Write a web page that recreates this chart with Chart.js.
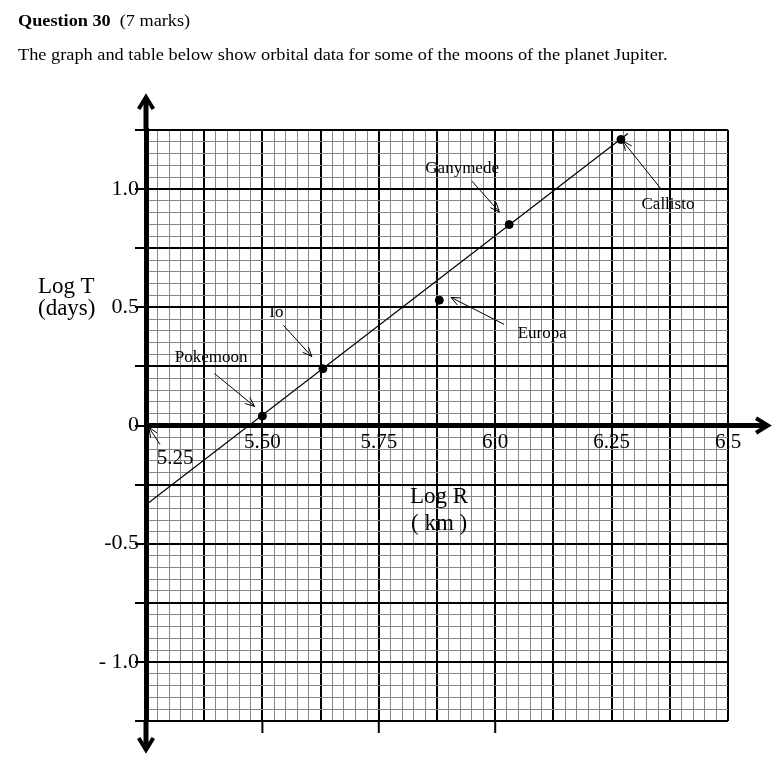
<!DOCTYPE html>
<html>
<head>
<meta charset="utf-8">
<script src="https://cdn.jsdelivr.net/npm/chart.js@4.4.1/dist/chart.umd.min.js"></script>
<style>
  body { margin: 0; background: #fff; }
  #wrap { position: relative; width: 784px; height: 762px; overflow: hidden; }
  #jupiterChart { position: absolute; left: 0; top: 0; }
  .txt { position: absolute; font-family: 'Liberation Serif', serif; color: #000; white-space: pre; transform-origin: 0 0; }
  .head { font-size: 16px; line-height: 16px; }
  .axisTitle { font-size: 23px; line-height: 23px; }
</style>
</head>
<body>
<div id="wrap">
  <canvas id="jupiterChart" width="784" height="762"></canvas>
  <div class="txt head" id="q" style="left:18px; top:13px;" data-fit="172"><b>Question 30</b>  (7 marks)</div>
  <div class="txt head" id="intro" style="left:18px; top:47px;" data-fit="649">The graph and table below show orbital data for some of the moons of the planet Jupiter.</div>
  <div class="txt axisTitle" style="left:38px; top:274px;">Log T</div>
  <div class="txt axisTitle" style="left:38px; top:296px;">(days)</div>
  <div class="txt axisTitle" style="left:410px; top:484px;">Log R</div>
  <div class="txt axisTitle" style="left:411px; top:511px;">( km )</div>
</div>
<script>
const moonNames = ['Pokemoon', 'Io', 'Europa', 'Ganymede', 'Callisto'];
const moonLogR = [5.50, 5.63, 5.88, 6.03, 6.27];
const moonLogT = [0.04, 0.24, 0.53, 0.85, 1.21];

const fitLogR = [5.25, 6.285];
const fitLogT = [-0.335, 1.235];

const xTickValues = [5.5, 5.75, 6.0, 6.25, 6.5];
const xTickLabels = ['5.50', '5.75', '6.0', '6.25', '6.5'];
const originLabel = '5.25';
const yTickValues = [1.0, 0.5, 0, -0.5, -1.0];
const yTickLabels = ['1.0', '0.5', '0', '-0.5', '- 1.0'];

// where the hand-written labels and their arrows sit (data units)
const callouts = [
  { text: moonNames[0], at: [5.390, 0.288], from: [5.397, 0.220], to: [5.483, 0.081] },
  { text: moonNames[1], at: [5.530, 0.479], from: [5.545, 0.424], to: [5.606, 0.292] },
  { text: moonNames[2], at: [6.101, 0.390], from: [6.019, 0.428], to: [5.905, 0.542] },
  { text: moonNames[3], at: [5.929, 1.089], from: [5.950, 1.034], to: [6.009, 0.903] },
  { text: moonNames[4], at: [6.371, 0.936], from: [6.358, 0.996], to: [6.274, 1.203] },
  { text: originLabel, at: [5.3125, -0.138], from: [5.280, -0.080], to: [5.256, -0.008], size: 21 }
];

document.querySelectorAll('[data-fit]').forEach(el => {
  const target = parseFloat(el.dataset.fit);
  el.style.transform = `scaleX(${target / el.offsetWidth})`;
});

function near(a, b) {
  return Math.abs(a - b) < 1e-6;
}

function isMultiple(v, step) {
  const q = v / step;
  return Math.abs(q - Math.round(q)) < 1e-6;
}

function labelFrom(values, labels, v) {
  const i = values.findIndex(t => near(t, v));
  return i >= 0 ? labels[i] : '';
}

function drawArrowHead(ctx, x0, y0, x1, y1, len, spread) {
  const ang = Math.atan2(y1 - y0, x1 - x0);
  ctx.beginPath();
  ctx.moveTo(x1 - len * Math.cos(ang - spread), y1 - len * Math.sin(ang - spread));
  ctx.lineTo(x1, y1);
  ctx.lineTo(x1 - len * Math.cos(ang + spread), y1 - len * Math.sin(ang + spread));
  ctx.stroke();
}

const calloutPlugin = {
  id: 'callouts',
  afterDatasetsDraw(chart) {
    const { ctx, scales: { x, y } } = chart;
    ctx.save();
    ctx.fillStyle = '#000';
    ctx.strokeStyle = '#000';
    ctx.lineWidth = 1;
    ctx.textAlign = 'center';
    ctx.textBaseline = 'middle';
    callouts.forEach(c => {
      ctx.font = `${c.size || 17}px "Liberation Serif", serif`;
      ctx.fillText(c.text, x.getPixelForValue(c.at[0]), y.getPixelForValue(c.at[1]));
      const x0 = x.getPixelForValue(c.from[0]), y0 = y.getPixelForValue(c.from[1]);
      const x1 = x.getPixelForValue(c.to[0]), y1 = y.getPixelForValue(c.to[1]);
      ctx.beginPath();
      ctx.moveTo(x0, y0);
      ctx.lineTo(x1, y1);
      ctx.stroke();
      drawArrowHead(ctx, x0, y0, x1, y1, 10, 0.4);
    });
    ctx.restore();
  },
  afterDraw(chart) {
    const { ctx, chartArea, scales: { x, y } } = chart;
    const ax = chartArea.left;
    const ay = y.getPixelForValue(0);
    ctx.save();
    ctx.strokeStyle = '#000';
    ctx.lineWidth = 5;
    ctx.beginPath();
    ctx.moveTo(ax, chartArea.top);
    ctx.lineTo(ax, chartArea.top - 31);
    ctx.moveTo(ax, chartArea.bottom);
    ctx.lineTo(ax, chartArea.bottom + 27);
    ctx.moveTo(chartArea.right, ay);
    ctx.lineTo(chartArea.right + 38, ay);
    ctx.stroke();
    ctx.lineWidth = 4;
    drawArrowHead(ctx, ax, chartArea.top, ax, chartArea.top - 33, 14, 0.55);
    drawArrowHead(ctx, ax, chartArea.bottom, ax, chartArea.bottom + 29, 14, 0.55);
    drawArrowHead(ctx, chartArea.right, ay, chartArea.right + 40, ay, 14, 0.55);
    // short stubs under the bottom edge at the labelled R values
    ctx.lineWidth = 2;
    ctx.beginPath();
    xTickValues.slice(0, 3).forEach(v => {
      const px = x.getPixelForValue(v);
      ctx.moveTo(px, chartArea.bottom);
      ctx.lineTo(px, chartArea.bottom + 12);
    });
    ctx.stroke();
    ctx.restore();
  }
};

const ctx = document.getElementById('jupiterChart').getContext('2d');

new Chart(ctx, {
  type: 'scatter',
  data: {
    datasets: [
      {
        label: 'Moons',
        data: moonLogR.map((r, i) => ({ x: r, y: moonLogT[i] })),
        backgroundColor: '#000',
        borderColor: '#000',
        pointRadius: 4,
        pointHoverRadius: 4,
      },
      {
        label: 'Best fit',
        data: fitLogR.map((r, i) => ({ x: r, y: fitLogT[i] })),
        showLine: true,
        borderColor: '#000',
        borderWidth: 1.2,
        pointRadius: 0,
        fill: false,
      },
    ],
  },
  options: {
    responsive: false,
    animation: false,
    layout: { padding: { top: 130, right: 56, bottom: 41, left: 0 } },
    plugins: {
      legend: { display: false },
      tooltip: { enabled: false },
    },
    scales: {
      x: {
        type: 'linear',
        position: { y: 0 },
        min: 5.25,
        max: 6.5,
        grid: {
          drawTicks: false,
          color: c => isMultiple(c.tick.value, 0.125) ? '#000' : '#858585',
          lineWidth: c => isMultiple(c.tick.value, 0.125) ? 2 : 1,
        },
        border: { color: '#000', width: 5 },
        ticks: {
          stepSize: 0.025,
          autoSkip: false,
          maxRotation: 0,
          padding: 4,
          color: '#000',
          font: { family: 'Liberation Serif', size: 21 },
          callback: v => labelFrom(xTickValues, xTickLabels, v),
        },
      },
      y: {
        type: 'linear',
        min: -1.25,
        max: 1.25,
        afterFit: scale => { scale.width = 146; },
        grid: {
          tickLength: 11,
          tickColor: c => isMultiple(c.tick.value, 0.25) ? '#000' : 'rgba(0,0,0,0)',
          color: c => isMultiple(c.tick.value, 0.25) ? '#000' : '#858585',
          lineWidth: c => isMultiple(c.tick.value, 0.25) ? 2 : 1,
        },
        border: { color: '#000', width: 5 },
        ticks: {
          stepSize: 0.05,
          autoSkip: false,
          padding: -4,
          color: '#000',
          font: { family: 'Liberation Serif', size: 22 },
          callback: v => labelFrom(yTickValues, yTickLabels, v),
        },
      },
    },
  },
  plugins: [calloutPlugin],
});
</script>
</body>
</html>
